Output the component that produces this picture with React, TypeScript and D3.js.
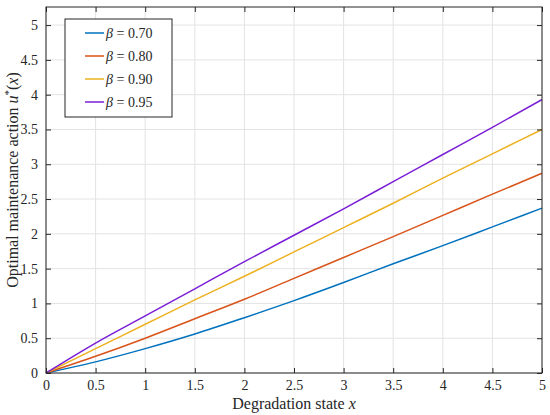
import React, { useRef, useEffect } from "react";
import * as d3 from "d3";

const xs = [0, 0.5, 1, 1.5, 2, 2.5, 3, 3.5, 4, 4.5, 5];
const beta070 = [0, 0.16, 0.35, 0.56, 0.795, 1.04, 1.3, 1.57, 1.83, 2.1, 2.37];
const beta080 = [0, 0.24, 0.5, 0.78, 1.06, 1.36, 1.66, 1.96, 2.265, 2.57, 2.87];
const beta090 = [0, 0.35, 0.7, 1.05, 1.39, 1.74, 2.09, 2.44, 2.8, 3.15, 3.5];
const beta095 = [0, 0.43, 0.82, 1.21, 1.6, 1.98, 2.36, 2.75, 3.14, 3.53, 3.93];

const seriesNames = ["0.70", "0.80", "0.90", "0.95"];
const seriesValues = [beta070, beta080, beta090, beta095];
const colors = ["#0072BD", "#D95319", "#EDB120", "#7B1FD6"];

const xTicks = [0, 0.5, 1, 1.5, 2, 2.5, 3, 3.5, 4, 4.5, 5];
const yTicks = [0, 0.5, 1, 1.5, 2, 2.5, 3, 3.5, 4, 4.5, 5];

const W = 550;
const H = 415;
const margin = { top: 7, right: 8, bottom: 42, left: 46 };
const font = "'Liberation Serif', 'DejaVu Serif', serif";

const App: React.FC = () => {
  const svgRef = useRef<SVGSVGElement>(null);

  useEffect(() => {
    if (!svgRef.current) return;
    const svg = d3.select(svgRef.current);
    svg.selectAll("*").remove();

    const innerW = W - margin.left - margin.right;
    const innerH = H - margin.top - margin.bottom;

    const x = d3.scaleLinear().domain([0, 5]).range([0, innerW]);
    const y = d3.scaleLinear().domain([0, 5.26]).range([innerH, 0]);

    const g = svg
      .append("g")
      .attr("transform", `translate(${margin.left},${margin.top})`);

    // grid
    g.append("g")
      .selectAll("line")
      .data(xTicks)
      .join("line")
      .attr("x1", (d) => x(d))
      .attr("x2", (d) => x(d))
      .attr("y1", 0)
      .attr("y2", innerH)
      .attr("stroke", "#e3e3e3")
      .attr("stroke-width", 1);
    g.append("g")
      .selectAll("line")
      .data(yTicks)
      .join("line")
      .attr("x1", 0)
      .attr("x2", innerW)
      .attr("y1", (d) => y(d))
      .attr("y2", (d) => y(d))
      .attr("stroke", "#e3e3e3")
      .attr("stroke-width", 1);

    // lines
    const line = d3
      .line<number>()
      .x((_d, i) => x(xs[i]))
      .y((d) => y(d))
      .curve(d3.curveMonotoneX);

    seriesValues.forEach((vals, i) => {
      g.append("path")
        .datum(vals)
        .attr("fill", "none")
        .attr("stroke", colors[i])
        .attr("stroke-width", 1.5)
        .attr("d", line);
    });

    // axes with inward ticks on all sides
    const axisColor = "#262626";
    const fmt = (d: d3.NumberValue) => d3.format("~g")(d as number);

    const styleAxis = (sel: d3.Selection<SVGGElement, unknown, null, undefined>) => {
      sel.select(".domain").remove();
      sel.selectAll("line").attr("stroke", axisColor);
      sel
        .selectAll("text")
        .attr("fill", axisColor)
        .style("font-family", font)
        .style("font-size", "14px");
    };

    g.append("g")
      .attr("transform", `translate(0,${innerH})`)
      .call(d3.axisBottom(x).tickValues(xTicks).tickFormat(fmt).tickSizeInner(-5).tickSizeOuter(0).tickPadding(7))
      .call(styleAxis);
    g.append("g")
      .call(d3.axisTop(x).tickValues(xTicks).tickFormat(() => "").tickSizeInner(-5).tickSizeOuter(0))
      .call(styleAxis);
    g.append("g")
      .call(d3.axisLeft(y).tickValues(yTicks).tickFormat(fmt).tickSizeInner(-5).tickSizeOuter(0).tickPadding(8))
      .call(styleAxis);
    g.append("g")
      .attr("transform", `translate(${innerW},0)`)
      .call(d3.axisRight(y).tickValues(yTicks).tickFormat(() => "").tickSizeInner(-5).tickSizeOuter(0))
      .call(styleAxis);

    g.append("rect")
      .attr("x", 0)
      .attr("y", 0)
      .attr("width", innerW)
      .attr("height", innerH)
      .attr("fill", "none")
      .attr("stroke", axisColor)
      .attr("stroke-width", 1);

    // axis labels
    const xl = svg
      .append("text")
      .attr("x", margin.left + innerW / 2)
      .attr("y", H - 6)
      .attr("text-anchor", "middle")
      .attr("fill", axisColor)
      .style("font-family", font)
      .style("font-size", "16px");
    xl.append("tspan").text("Degradation state ");
    xl.append("tspan").attr("font-style", "italic").text("x");

    const yl = svg
      .append("text")
      .attr("transform", `translate(18,180) rotate(-90)`)
      .attr("text-anchor", "middle")
      .attr("fill", axisColor)
      .style("font-family", font)
      .style("font-size", "16px");
    yl.append("tspan").text("Optimal maintenance action ");
    yl.append("tspan").attr("font-style", "italic").text("u");
    yl.append("tspan").attr("font-size", "11px").attr("dy", -6).text("*");
    yl.append("tspan").attr("dy", 6).text("(");
    yl.append("tspan").attr("font-style", "italic").text("x");
    yl.append("tspan").text(")");

    // legend
    const lg = svg.append("g").attr("transform", "translate(65,19)");
    lg.append("rect")
      .attr("width", 107)
      .attr("height", 98)
      .attr("fill", "white")
      .attr("stroke", axisColor)
      .attr("stroke-width", 1);
    seriesNames.forEach((name, i) => {
      const cy = 14 + i * 23;
      lg.append("line")
        .attr("x1", 20)
        .attr("x2", 39)
        .attr("y1", cy)
        .attr("y2", cy)
        .attr("stroke", colors[i])
        .attr("stroke-width", 1.5);
      const t = lg
        .append("text")
        .attr("x", 41)
        .attr("y", cy + 5)
        .attr("fill", axisColor)
        .style("font-family", font)
        .style("font-size", "14px");
      t.append("tspan").attr("font-style", "italic").text("β");
      t.append("tspan").text(` = ${name}`);
    });
  }, []);

  return (
    <svg
      ref={svgRef}
      width={W}
      height={H}
      style={{ position: "absolute", left: 0, top: 0, background: "white" }}
    />
  );
};

export default App;
